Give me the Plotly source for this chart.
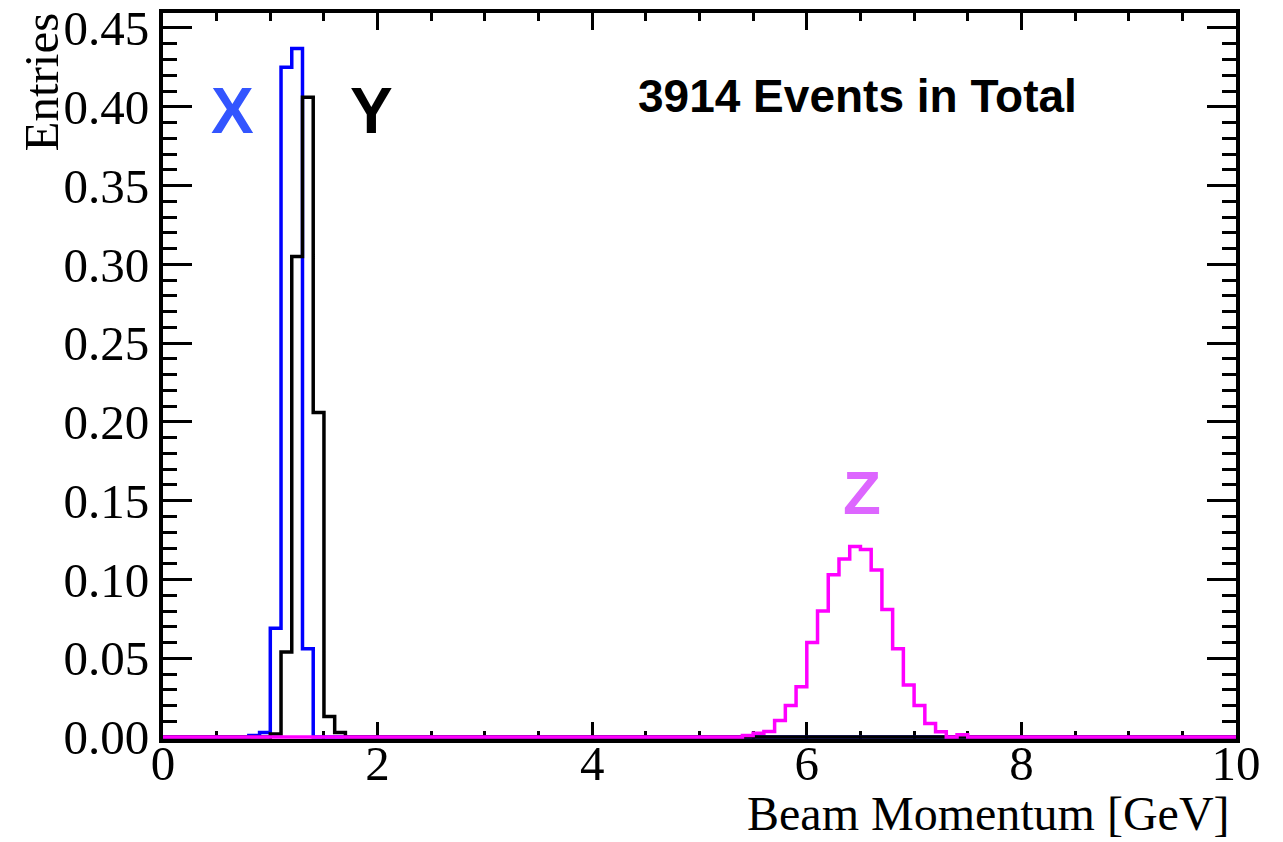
import numpy as np
import plotly.graph_objects as go

# ---- data (bin width 0.1 GeV, histogram range 0-10 GeV) ----
bin_width = 0.1
n_bins = 100

# X (blue): bins starting at 0.8 GeV
x_start = 0.8
x_vals = [0.001, 0.003, 0.069, 0.425, 0.437, 0.056]

# Y (black): bins starting at 1.0 GeV
y_start = 1.0
y_vals = [0.002, 0.054, 0.305, 0.406, 0.206, 0.013, 0.003]

# Z (magenta): bins starting at 5.4 GeV
z_start = 5.4
z_vals = [0.001, 0.0025, 0.0035, 0.0105, 0.020, 0.032, 0.060, 0.080, 0.103,
          0.113, 0.121, 0.119, 0.106, 0.081, 0.056, 0.033, 0.020, 0.0087,
          0.0034, 0.0, 0.0015]

x_tick_vals = [0, 2, 4, 6, 8, 10]
y_tick_vals = [0.00, 0.05, 0.10, 0.15, 0.20, 0.25, 0.30, 0.35, 0.40, 0.45]

total_text = "3914 Events in Total"


def full_hist(start, vals):
    h = np.zeros(n_bins)
    i0 = int(round(start / bin_width))
    h[i0:i0 + len(vals)] = vals
    return h


edges = np.round(np.arange(n_bins + 1) * bin_width, 4)


def step_trace(start, vals, color):
    h = full_hist(start, vals)
    yy = np.append(h, h[-1])
    return go.Scatter(x=edges, y=yy, mode="lines", line=dict(color=color, width=3.5, shape="hv"),
                      showlegend=False, hoverinfo="skip")


fig = go.Figure()
fig.add_trace(step_trace(x_start, x_vals, "#0000ff"))
fig.add_trace(step_trace(y_start, y_vals, "#000000"))
fig.add_trace(step_trace(z_start, z_vals, "#ff00ff"))

serif = "Liberation Serif, Times New Roman, serif"
sans = "Liberation Sans, Arial, sans-serif"

fig.update_layout(
    template="none",
    width=1283, height=842,
    margin=dict(l=155, r=55, t=5, b=111, autoexpand=False),
    paper_bgcolor="white", plot_bgcolor="white",
    xaxis=dict(range=[0, 10], tickvals=x_tick_vals, ticktext=[str(v) for v in x_tick_vals],
               automargin=False, ticklabelstandoff=-22, ticklabeloverflow="allow",
               ticks="inside", ticklen=17, tickwidth=3, tickcolor="black",
               minor=dict(ticks="inside", dtick=0.5, tick0=0, ticklen=8, tickwidth=3, tickcolor="black",
                          showgrid=False),
               showline=True, linewidth=4, linecolor="black", mirror="allticks",
               showgrid=False, zeroline=False, layer="below traces",
               tickfont=dict(family=serif, size=49, color="black")),
    yaxis=dict(range=[-0.0012, 0.4595], tickvals=y_tick_vals,
               ticktext=[f"{v:.2f}" for v in y_tick_vals],
               automargin=False, ticklabeloverflow="allow",
               ticks="inside", ticklen=29, tickwidth=3, tickcolor="black",
               minor=dict(ticks="inside", dtick=0.01, tick0=0, ticklen=14, tickwidth=3, tickcolor="black",
                          showgrid=False),
               showline=True, linewidth=4, linecolor="black", mirror="allticks",
               showgrid=False, zeroline=False, layer="below traces",
               tickfont=dict(family=serif, size=49, color="black")),
    annotations=[
        dict(text="Entries", textangle=-90, xref="paper", yref="paper", x=-0.1128, y=0.9056,
             xanchor="center", yanchor="middle", showarrow=False,
             font=dict(family=serif, size=49, color="black")),
        dict(text="Beam Momentum [GeV]", xref="paper", yref="paper", x=0.9963, y=-0.103,
             xanchor="right", yanchor="middle", showarrow=False,
             font=dict(family=serif, size=48, color="black")),
        dict(text="<b>X</b>", xref="x", yref="y", x=0.648, y=0.397, showarrow=False,
             xanchor="center", yanchor="middle", font=dict(family=sans, size=64, color="#3355ff")),
        dict(text="<b>Y</b>", xref="x", yref="y", x=1.94, y=0.397, showarrow=False,
             xanchor="center", yanchor="middle", font=dict(family=sans, size=64, color="black")),
        dict(text="<b>Z</b>", xref="x", yref="y", x=6.51, y=0.1555, showarrow=False,
             xanchor="center", yanchor="middle", font=dict(family=sans, size=62, color="#dd66ff")),
        dict(text="<b>" + total_text + "</b>", xref="x", yref="y", x=6.474, y=0.4066, showarrow=False,
             xanchor="center", yanchor="middle", font=dict(family=sans, size=46, color="black")),
    ],
)

fig.write_html("out.html")
